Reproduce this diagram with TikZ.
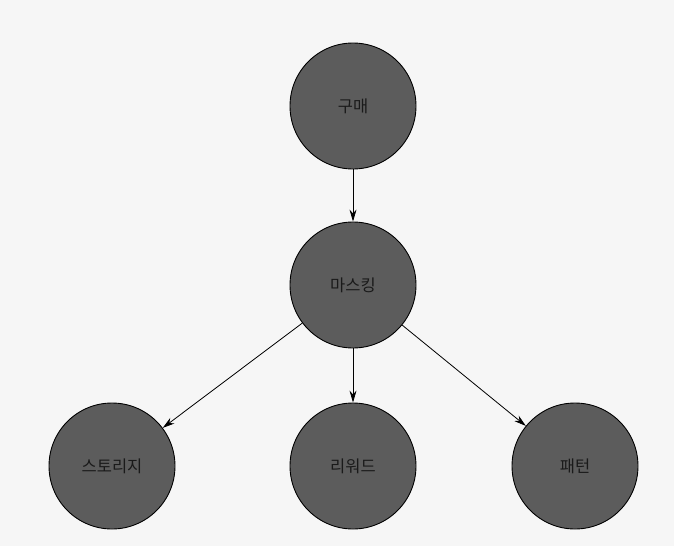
\documentclass[tikz,border=0pt]{standalone}
\usepackage{fontspec}
\newfontfamily\kr{Noto Sans CJK KR}
\usetikzlibrary{arrows.meta}
\definecolor{nodefill}{HTML}{5C5C5C}
\definecolor{pagebg}{HTML}{F6F6F6}
\definecolor{txt}{HTML}{1A1A1A}
\tikzset{
  bubble/.style={circle, draw=black, line width=0.9pt, fill=nodefill,
    minimum size=126pt, inner sep=0pt, font=\kr\fontsize{16.5}{20}\selectfont, text=txt},
  link/.style={line width=0.8pt, -{Stealth[length=12pt,width=7pt]}}
}
\begin{document}
\begin{tikzpicture}[x=1pt,y=-1pt]
\fill[pagebg] (0,0) rectangle (674,546);
\useasboundingbox (0,0) rectangle (674,546);
\node[bubble] (buy) at (353,106) {구매};
\node[bubble] (mask) at (353,285) {마스킹};
\node[bubble] (store) at (112,466) {스토리지};
\node[bubble] (reward) at (353,466) {리워드};
\node[bubble] (pattern) at (575,466) {패턴};
\draw[link] (buy) -- (mask);
\draw[link] (mask) -- (store);
\draw[link] (mask) -- (reward);
\draw[link] (mask) -- (pattern);
\end{tikzpicture}
\end{document}
